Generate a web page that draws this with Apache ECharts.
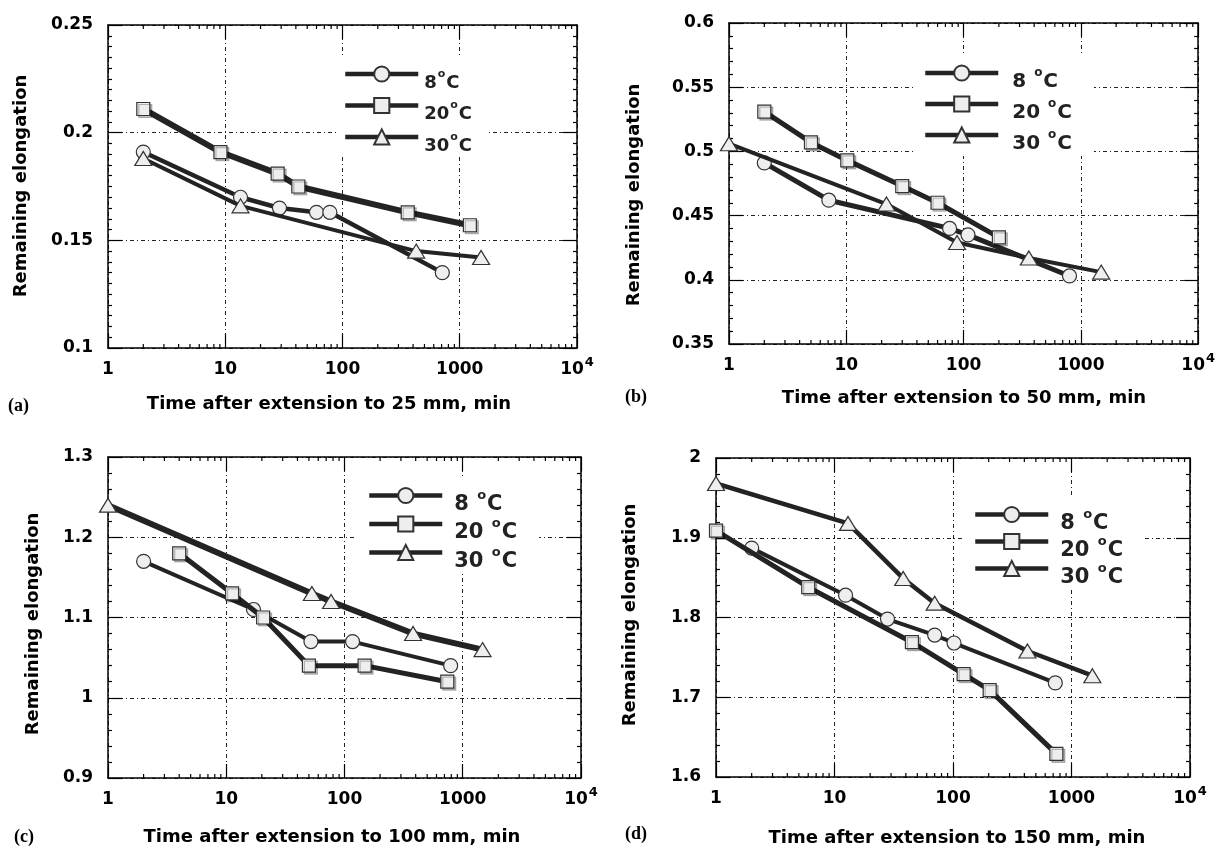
<!DOCTYPE html>
<html>
<head>
<meta charset="utf-8">
<script src="https://cdn.jsdelivr.net/npm/echarts@6/dist/echarts.min.js"></script>
<style>
html, body { margin: 0; padding: 0; background: #fff; }
#main { width: 1218px; height: 850px; }
</style>
</head>
<body>
<div id="main"></div>
<script>
// (a) extension to 25 mm
var time25_8 = [2, 13.5, 29, 60, 78, 710];
var elong25_8 = [0.191, 0.170, 0.165, 0.163, 0.163, 0.135];
var time25_20 = [2, 9.1, 28, 42, 360, 1220];
var elong25_20 = [0.211, 0.191, 0.181, 0.175, 0.163, 0.157];
var time25_30 = [2, 13.5, 425, 1520];
var elong25_30 = [0.188, 0.166, 0.145, 0.142];

// (b) extension to 50 mm
var time50_8 = [2, 7.1, 76, 109, 800];
var elong50_8 = [0.491, 0.462, 0.440, 0.435, 0.403];
var time50_20 = [2, 5, 10.2, 30, 60, 200];
var elong50_20 = [0.531, 0.507, 0.493, 0.473, 0.460, 0.433];
var time50_30 = [1, 22, 88, 360, 1490];
var elong50_30 = [0.506, 0.459, 0.429, 0.417, 0.406];

// (c) extension to 100 mm
var time100_8 = [2, 17, 52, 117, 790];
var elong100_8 = [1.17, 1.11, 1.07, 1.07, 1.04];
var time100_20 = [4, 11.2, 20.5, 50, 148, 740];
var elong100_20 = [1.18, 1.13, 1.10, 1.04, 1.04, 1.02];
var time100_30 = [1, 53, 77, 380, 1470];
var elong100_30 = [1.24, 1.13, 1.12, 1.08, 1.06];

// (d) extension to 150 mm
var time150_8 = [2, 12.4, 28, 70, 102, 730];
var elong150_8 = [1.887, 1.828, 1.798, 1.778, 1.768, 1.718];
var time150_20 = [1, 6, 45, 123, 204, 745];
var elong150_20 = [1.909, 1.838, 1.769, 1.729, 1.709, 1.629];
var time150_30 = [1, 13, 38, 70, 425, 1500];
var elong150_30 = [1.968, 1.918, 1.849, 1.818, 1.758, 1.727];

var tempLabels = ['8', '20', '30'];
var xTitles = [
    'Time after extension to 25 mm, min',
    'Time after extension to 50 mm, min',
    'Time after extension to 100 mm, min',
    'Time after extension to 150 mm, min'
];
var yTitle = 'Remaining elongation';
var panelTags = ['(a)', '(b)', '(c)', '(d)'];
var yRanges = [[0.1, 0.25, 0.05], [0.35, 0.6, 0.05], [0.9, 1.3, 0.1], [1.6, 2, 0.1]];

var FONT = '"DejaVu Sans", sans-serif';
var INK = '#232323';
var FILL = '#eeeeee';
var symbols = ['circle', 'rect', 'triangle'];
var symbolSizes = [14, 13, [17, 14]];

var panels = [
    { data: [[time25_8, elong25_8], [time25_20, elong25_20], [time25_30, elong25_30]],
      widths: [4.5, 6, 4], minor: 10,
      grid: { left: 108, top: 25, width: 469, height: 323 },
      legend: { left: 336, top: 56, padding: [0, 16, 2, 7], gap: -4.5, font: 18, textGap: 1, space: '' },
      xName: [329, 404], yName: [21, 186], tag: [8, 406] },
    { data: [[time50_8, elong50_8], [time50_20, elong50_20], [time50_30, elong50_30]],
      widths: [5, 5, 4], minor: 5,
      grid: { left: 729, top: 23, width: 471, height: 321 },
      legend: { left: 913, top: 54, padding: [0, 22, 2, 10], gap: -7, font: 20, textGap: 9, space: ' ' },
      xName: [964, 398], yName: [634, 195], tag: [625, 397] },
    { data: [[time100_8, elong100_8], [time100_20, elong100_20], [time100_30, elong100_30]],
      widths: [4, 5, 6], minor: 5,
      grid: { left: 108, top: 457, width: 473, height: 321 },
      legend: { left: 357, top: 476, padding: [0, 22, 2, 10], gap: -10.5, font: 21, textGap: 7, space: ' ' },
      xName: [332, 837], yName: [33, 624], tag: [14, 837] },
    { data: [[time150_8, elong150_8], [time150_20, elong150_20], [time150_30, elong150_30]],
      widths: [4, 5, 4.5], minor: 5,
      grid: { left: 716, top: 458, width: 474, height: 319 },
      legend: { left: 962, top: 495, padding: [0, 20, 2, 11], gap: -12, font: 21, textGap: 7, space: ' ' },
      xName: [957, 838], yName: [630, 615], tag: [625, 834] }
];

var gridLine = { color: '#222', width: 1, type: [4, 3, 1, 3] };
var border = { color: '#000', width: 1.5 };

var option = {
    animation: false,
    backgroundColor: '#fff',
    grid: [], xAxis: [], yAxis: [], series: [], legend: [], graphic: []
};

panels.forEach(function (p, k) {
    var yr = yRanges[k];
    option.grid.push({ left: p.grid.left, top: p.grid.top, width: p.grid.width, height: p.grid.height });

    option.xAxis.push({
        type: 'log', logBase: 10, min: 1, max: 10000, gridIndex: k, position: 'bottom',
        axisLine: { onZero: false, lineStyle: border },
        axisTick: { inside: true, length: 14, lineStyle: { color: '#000', width: 1.2 } },
        splitLine: { show: true, lineStyle: gridLine },
        axisLabel: {
            margin: 10,
            formatter: function (v) {
                var r = Math.round(v);
                return r === 10000 ? '{b|10}{sup|4}' : '{b|' + r + '}';
            },
            rich: {
                b: { fontFamily: FONT, fontWeight: 'bold', fontSize: 17, lineHeight: 17, color: '#000', padding: [7, 0, 0, 0] },
                sup: { fontFamily: FONT, fontWeight: 'bold', fontSize: 13, lineHeight: 13, color: '#000', padding: [0, 0, 7, 1] }
            }
        }
    });
    option.xAxis.push({
        type: 'log', logBase: 10, min: 1, max: 10000, gridIndex: k, position: 'top',
        axisLine: { onZero: false, lineStyle: border },
        axisTick: { inside: true, length: 14, lineStyle: { color: '#000', width: 1.2 } },
        splitLine: { show: false }, axisLabel: { show: false }
    });

    option.yAxis.push({
        type: 'value', min: yr[0], max: yr[1], interval: yr[2], gridIndex: k, position: 'left',
        axisLine: { lineStyle: border },
        axisTick: { inside: true, length: 14, lineStyle: { color: '#000', width: 1.2 } },
        minorTick: { show: true, splitNumber: p.minor, length: 4, lineStyle: { color: '#000', width: 1.2 } },
        splitLine: { show: true, lineStyle: gridLine },
        axisLabel: { margin: 15, color: '#000', fontFamily: FONT, fontWeight: 'bold', fontSize: 17 }
    });
    option.yAxis.push({
        type: 'value', min: yr[0], max: yr[1], interval: yr[2], gridIndex: k, position: 'right',
        axisLine: { lineStyle: border },
        axisTick: { inside: true, length: 14, lineStyle: { color: '#000', width: 1.2 } },
        minorTick: { show: true, splitNumber: p.minor, length: 4, lineStyle: { color: '#000', width: 1.2 } },
        splitLine: { show: false }, axisLabel: { show: false }
    });

    var names = [];
    p.data.forEach(function (d, s) {
        var name = panelTags[k] + tempLabels[s];
        names.push(name);
        option.series.push({
            type: 'line', name: name, xAxisIndex: 2 * k, yAxisIndex: 2 * k,
            data: d[0].map(function (t, i) { return [t, d[1][i]]; }),
            symbol: symbols[s], symbolSize: symbolSizes[s],
            lineStyle: { color: INK, width: p.widths[s] },
            itemStyle: s === 1
                ? { color: FILL, borderColor: '#333', borderWidth: 1.2, shadowColor: 'rgba(0,0,0,0.25)', shadowOffsetX: 2, shadowOffsetY: 2 }
                : { color: FILL, borderColor: '#333', borderWidth: 1.2 },
            emphasis: { disabled: true },
            z: 3 + s
        });
    });

    var lg = p.legend;
    option.legend.push({
        data: names, orient: 'vertical', left: lg.left, top: lg.top, padding: lg.padding,
        itemGap: lg.gap, itemWidth: 73, itemHeight: 19, backgroundColor: '#fff',
        selectedMode: false,
        lineStyle: { width: 4.5, color: INK },
        formatter: function (name) {
            var t = name.slice(3);
            return '{g| }{n|' + t + lg.space + '}{s|o}{n|C}';
        },
        textStyle: {
            rich: {
                g: { width: lg.textGap, fontSize: 4 },
                n: { fontFamily: FONT, fontWeight: 'bold', fontSize: lg.font, lineHeight: lg.font, color: '#222', padding: [18, 0, 0, 0] },
                s: { fontFamily: FONT, fontWeight: 'bold', fontSize: Math.round(lg.font * 0.62), lineHeight: 11, color: '#222', padding: [0, 1, 0, 1] }
            }
        }
    });

    option.graphic.push({
        type: 'text', x: p.xName[0], y: p.xName[1], silent: true,
        style: { text: xTitles[k], fill: '#000', font: 'bold 18px ' + FONT, textAlign: 'center', textVerticalAlign: 'middle' }
    });
    option.graphic.push({
        type: 'text', x: p.yName[0], y: p.yName[1], rotation: Math.PI / 2, silent: true,
        style: { text: yTitle, fill: '#000', font: 'bold 18px ' + FONT, textAlign: 'center', textVerticalAlign: 'middle' }
    });
    option.graphic.push({
        type: 'text', x: p.tag[0], y: p.tag[1], silent: true,
        style: { text: panelTags[k], fill: '#000', font: 'bold 18px "Liberation Serif", serif', textAlign: 'left', textVerticalAlign: 'middle' }
    });
});

var chart = echarts.init(document.getElementById('main'));
chart.setOption(option);

// minor log ticks (2..9 in every decade) on bottom and top edges
var ticks = [];
panels.forEach(function (p, k) {
    var yb = p.grid.top + p.grid.height, yt = p.grid.top;
    [1, 10, 100, 1000].forEach(function (d) {
        for (var m = 2; m <= 9; m++) {
            var x = chart.convertToPixel({ xAxisIndex: 2 * k }, d * m);
            ticks.push({ type: 'line', silent: true, z: 10, shape: { x1: x, y1: yb, x2: x, y2: yb - 4 }, style: { stroke: '#000', lineWidth: 1.2 } });
            ticks.push({ type: 'line', silent: true, z: 10, shape: { x1: x, y1: yt, x2: x, y2: yt + 4 }, style: { stroke: '#000', lineWidth: 1.2 } });
        }
    });
});
chart.setOption({ graphic: option.graphic.concat(ticks) });
window.onresize = chart.resize;
</script>
</body>
</html>
